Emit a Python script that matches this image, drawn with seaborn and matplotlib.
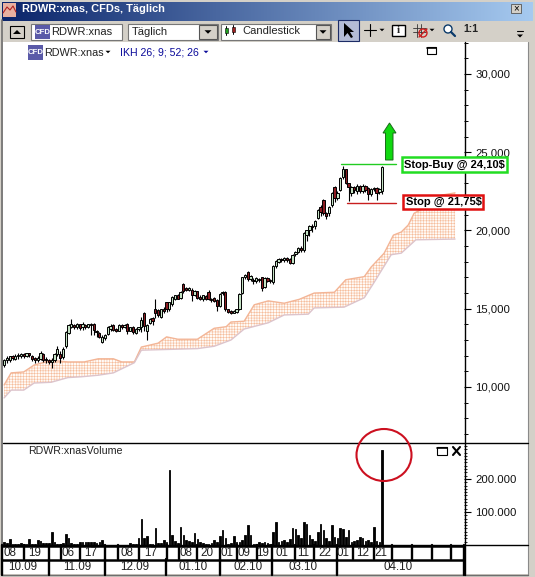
import numpy as np
import pandas as pd
import matplotlib
matplotlib.use("Agg")
import matplotlib.pyplot as plt
from matplotlib.patches import Rectangle, Ellipse, Polygon
from matplotlib.ticker import MultipleLocator
import seaborn as sns

# candles, prices in thousands as the chart prints them
opens = [11.4, 11.7, 11.75, 11.95, 11.8, 11.95, 12.0, 12.1, 12.0, 12.15,
         12.0, 11.85, 11.7, 11.8, 12.1, 11.8, 11.7, 11.6, 11.7, 12.1,
         12.1, 11.9, 12.6, 13.45, 13.85, 13.95, 13.85, 14.0, 13.8, 13.95,
         13.85, 14.0, 14.05, 13.6, 13.45, 12.85, 13.1, 13.4, 13.7, 13.95,
         13.7, 13.6, 13.95, 13.8, 14.05, 13.6, 13.85, 13.45, 13.7, 13.8,
         14.7, 13.6, 14.1, 14.4, 14.95, 14.9, 14.5, 15.0, 15.4, 14.95,
         15.3, 15.65, 15.85, 15.7, 16.6, 16.35, 16.2, 16.2, 15.9, 16.1,
         15.75, 15.6, 15.8, 16.05, 15.65, 15.7, 15.55, 15.2, 16.0, 16.05,
         14.95, 14.85, 14.75, 14.8, 15.0, 16.0, 17.0, 17.35, 16.9, 16.85,
         16.75, 16.9, 17.0, 16.4, 16.95, 16.85, 16.7, 17.75, 18.0, 18.2,
         18.1, 18.25, 18.2, 17.95, 18.5, 18.65, 18.9, 18.75, 19.7, 20.05,
         20.3, 20.3, 20.8, 21.5, 21.95, 21.1, 21.1, 21.6, 22.8, 22.1,
         22.6, 23.4, 23.9, 23.0, 22.4, 22.75, 22.5, 22.85, 22.55, 22.85,
         22.7, 22.3, 22.65, 22.7, 22.45, 22.55]
closes = [11.7, 11.85, 11.95, 11.85, 12.0, 12.05, 12.1, 12.0, 12.15, 12.05,
          11.8, 11.7, 11.85, 12.2, 11.75, 11.7, 11.6, 11.7, 12.1, 12.4,
          11.85, 12.45, 13.5, 13.95, 14.0, 13.8, 14.0, 13.75, 14.0, 13.85,
          14.0, 13.95, 13.65, 13.5, 13.2, 13.2, 13.3, 13.85, 13.9, 13.65,
          13.6, 13.95, 13.8, 13.95, 13.55, 13.8, 13.5, 13.7, 13.8, 14.3,
          13.9, 13.95, 14.35, 14.2, 14.7, 14.6, 14.95, 14.85, 14.95, 15.4,
          15.75, 15.85, 15.65, 16.05, 16.1, 16.2, 16.35, 15.9, 16.15, 15.7,
          15.65, 15.85, 15.65, 15.65, 15.55, 15.5, 15.2, 15.95, 16.05, 14.95,
          14.8, 14.75, 14.85, 14.95, 15.95, 17.0, 17.15, 16.9, 17.1, 16.75,
          16.95, 16.85, 16.3, 16.95, 16.8, 16.75, 17.75, 18.05, 18.2, 18.1,
          18.25, 18.1, 17.95, 18.45, 18.65, 18.9, 18.75, 19.85, 20.0, 20.3,
          20.25, 20.6, 21.3, 21.2, 21.1, 20.9, 21.5, 22.4, 22.1, 22.4,
          23.35, 23.95, 23.0, 22.75, 22.75, 22.6, 22.85, 22.55, 22.85, 22.6,
          22.3, 22.65, 22.7, 22.4, 22.65, 24.05]
highs = [11.8, 11.95, 12.0, 12.05, 12.1, 12.15, 12.2, 12.15, 12.2, 12.2,
         12.05, 11.9, 11.95, 12.3, 12.15, 11.9, 11.8, 11.85, 12.2, 12.6,
         12.3, 12.55, 13.55, 14.05, 14.35, 14.05, 14.1, 14.05, 14.15, 14.05,
         14.05, 14.1, 14.1, 13.65, 13.5, 13.3, 13.4, 13.9, 14.0, 14.0,
         13.75, 14.0, 14.05, 14.0, 14.1, 13.85, 13.9, 13.75, 13.85, 14.5,
         14.8, 14.0, 14.4, 14.45, 15.65, 14.95, 15.0, 15.1, 15.45, 15.45,
         15.8, 15.9, 15.95, 16.1, 16.65, 16.4, 16.4, 16.3, 16.2, 16.15,
         15.85, 15.9, 15.9, 16.2, 15.7, 15.75, 15.6, 16.0, 16.1, 16.1,
         15.0, 14.9, 14.9, 15.0, 16.0, 17.05, 17.2, 17.4, 17.15, 16.95,
         17.0, 16.95, 17.05, 17.0, 17.0, 16.9, 17.8, 18.1, 18.25, 18.25,
         18.3, 18.3, 18.25, 18.5, 18.7, 18.95, 19.0, 19.9, 20.05, 20.35,
         20.4, 20.65, 21.35, 21.6, 22.0, 21.15, 21.55, 22.45, 22.85, 22.5,
         23.4, 24.1, 23.95, 23.05, 22.85, 22.85, 22.95, 22.9, 22.95, 22.9,
         22.75, 22.7, 22.8, 22.75, 22.7, 24.1]
lows = [11.3, 11.5, 11.6, 11.7, 11.7, 11.8, 11.85, 11.85, 11.9, 11.9,
        11.65, 11.55, 11.6, 11.7, 11.6, 11.5, 11.45, 11.2, 11.6, 11.95,
        11.5, 11.8, 12.5, 13.4, 13.75, 13.7, 13.7, 13.65, 13.65, 13.7,
        13.75, 13.3, 13.3, 13.2, 13.1, 12.8, 13.0, 13.35, 13.6, 13.55,
        13.5, 13.55, 13.7, 13.75, 13.4, 13.55, 13.4, 13.4, 13.6, 13.5,
        13.6, 13.0, 14.0, 13.95, 14.4, 14.5, 14.4, 14.75, 14.8, 14.85,
        15.2, 15.55, 15.6, 15.6, 16.0, 16.1, 16.1, 15.5, 15.8, 15.6,
        15.55, 15.5, 15.55, 15.55, 15.4, 15.4, 14.85, 15.1, 15.9, 14.85,
        14.7, 14.65, 14.7, 14.75, 14.9, 15.95, 16.9, 16.8, 16.8, 16.6,
        16.65, 16.7, 16.15, 16.35, 16.7, 16.65, 16.6, 17.6, 17.9, 18.0,
        18.0, 18.0, 17.85, 17.85, 18.35, 18.55, 18.6, 18.65, 19.3, 19.65,
        19.9, 20.1, 20.7, 20.9, 21.0, 20.7, 20.95, 21.5, 21.8, 21.95,
        22.5, 23.3, 22.95, 21.85, 22.2, 22.4, 22.3, 22.4, 22.4, 22.45,
        21.95, 22.2, 22.5, 21.95, 22.3, 22.3]

# volume in thousands, one per candle
volumes = [8, 6, 18, 3, 4, 3, 5, 4, 2, 18,
           4, 3, 15, 12, 6, 5, 5, 38, 8, 3,
           3, 7, 32, 22, 6, 4, 4, 8, 8, 9,
           8, 9, 8, 7, 9, 15, 1, 1, 1, 1,
           1, 1, 1, 1, 1, 5, 3, 3, 22, 80,
           22, 26, 2, 3, 50, 5, 7, 15, 10, 228,
           30, 12, 5, 55, 30, 15, 13, 10, 35, 18,
           10, 5, 3, 2, 7, 14, 8, 27, 46, 20,
           3, 5, 28, 10, 8, 15, 30, 62, 30, 3,
           3, 8, 6, 8, 5, 4, 40, 70, 8, 12,
           15, 10, 18, 50, 48, 30, 20, 70, 65, 30,
           18, 12, 38, 65, 45, 20, 12, 60, 25, 20,
           50, 48, 25, 45, 10, 12, 15, 25, 20, 12,
           15, 10, 55, 12, 10, 288]

# Ichimoku cloud edges: bar number and price
cloud_top_bar = [0, 2.5, 7, 10.7, 16.8, 22.8, 28.6, 33.6, 39, 42, 46.5, 49, 55, 58, 62, 69,
                 75, 79.3, 81, 85.7, 89.3, 94.3, 100, 105.4, 110.7, 117.9, 122, 128.6, 131,
                 135.7, 139, 141.8, 144.3, 146.4, 150.7, 156, 161]
cloud_top = [10.13, 10.9, 10.96, 11.4, 11.7, 11.6, 11.6, 11.8, 11.8, 11.6, 11.6, 12.55, 12.8, 13.2, 13.05, 13.05,
             13.75, 13.85, 14.15, 14.2, 15.25, 15.5, 15.35, 15.6, 16.0, 16.05, 16.85, 17.05, 17.65,
             18.55, 19.7, 19.9, 20.35, 21.1, 21.5, 22.25, 22.4]
cloud_bot_bar = [0, 2.5, 7, 10.7, 16.8, 22.8, 27.5, 33.6, 39, 46.5, 49, 69, 75, 81, 85.7, 94.3,
                 100, 108.6, 110.7, 121.4, 128.6, 132, 138.2, 141.8, 147, 161]
cloud_bot = [9.3, 9.8, 9.8, 10.25, 10.3, 10.6, 10.65, 10.75, 10.9, 11.55, 12.35, 12.45, 12.6, 13.0, 13.7, 14.1,
             14.6, 14.65, 15.05, 15.1, 15.7, 16.65, 18.45, 18.55, 19.4, 19.45]

price_ticks = [10, 15, 20, 25, 30]
price_labels = ["10,000", "15,000", "20,000", "25,000", "30,000"]
volume_ticks = [100, 200]
volume_labels = ["100.000", "200.000"]

day_labels = ["08", "19", "06", "17", "08", "17", "08", "20", "01", "09", "19", "01", "11", "22", "01", "12", "21"]
day_px = [10, 35, 68, 91, 127, 151, 186, 207, 227, 244, 263, 282, 303, 325, 343, 363, 381]
day_seps = [2, 24, 49, 61, 80, 105, 118, 139, 167, 179, 197, 220, 237, 257, 272, 295, 314, 337, 353, 374, 392, 412, 432, 451, 464]
month_labels = ["10.09", "11.09", "12.09", "01.10", "02.10", "03.10", "04.10"]
month_px = [23, 77, 135, 193, 248, 303, 398]
month_seps = [2, 49, 105, 166, 220, 272, 337, 464]

W, H = 535, 577
GREY = "#d4d0c8"

sns.set_theme(style="white")
plt.rcParams["font.family"] = ["Liberation Sans", "DejaVu Sans"]
plt.rcParams["hatch.linewidth"] = 0.4

fig = plt.figure(figsize=(W / 100, H / 100), dpi=100, facecolor=GREY)


def px_axes(left, top, right, bottom, **kw):
    return fig.add_axes([left / W, 1 - bottom / H, (right - left) / W, (bottom - top) / H], **kw)


# window background
bg = fig.add_axes([0, 0, 1, 1], zorder=0)
bg.set_xlim(0, W)
bg.set_ylim(H, 0)
bg.axis("off")
bg.imshow(np.linspace(0, 1, 256).reshape(1, -1), extent=(2, 533, 21, 2), aspect="auto",
          cmap=matplotlib.colors.LinearSegmentedColormap.from_list("tb", ["#0a246a", "#a6caf0"]))
bg.set_xlim(0, W)
bg.set_ylim(H, 0)
bg.add_patch(Rectangle((3, 42), 525, 532, fc="white", ec="none"))

bars = np.arange(len(closes))
df = pd.DataFrame({"bar": bars, "open": opens, "close": closes, "high": highs, "low": lows, "volume": volumes})
up = df[df.close >= df.open]
down = df[df.close < df.open]

# price panel
ax = px_axes(3, 42, 464, 443, zorder=2, facecolor="none")
ax.fill(np.r_[cloud_top_bar, cloud_bot_bar[::-1]], np.r_[cloud_top, cloud_bot[::-1]],
        facecolor="#fffaf6", edgecolor="#f6bd9c", hatch="++++++", linewidth=0, zorder=1)
sns.lineplot(x=cloud_top_bar, y=cloud_top, color="#f3b596", linewidth=1, ax=ax, zorder=2)
sns.lineplot(x=cloud_bot_bar, y=cloud_bot, color="#dcc4cc", linewidth=1, ax=ax, zorder=2)
ax.vlines(df.bar, df.low, df.high, color="black", linewidth=0.8, zorder=3)
ax.bar(up.bar, up.close - up.open, bottom=up.open, width=0.8, color="#c4e2c4", edgecolor="black", linewidth=0.7, zorder=4)
ax.bar(down.bar, down.open - down.close, bottom=down.close, width=0.8, color="#8c1c22", edgecolor="black", linewidth=0.7, zorder=4)
ax.set_xlim(-0.4, 164.2)
ax.set_ylim(6.42, 32.04)
ax.set_xticks([])
ax.yaxis.tick_right()
ax.set_yticks(price_ticks, price_labels)
ax.yaxis.set_minor_locator(MultipleLocator(1))
ax.tick_params(axis="y", which="major", length=5, width=0.8, color="black", labelsize=8.2, pad=3, labelcolor="#111111")
ax.tick_params(axis="y", which="minor", length=3, width=0.7, color="black", right=True)
ax.set_xlabel("")
ax.set_ylabel("")
sns.despine(ax=ax, left=True, bottom=True, top=True, right=True)

# volume panel
axv = px_axes(3, 443, 464, 545, zorder=2, facecolor="none")
sns.barplot(data=df, x="bar", y="volume", native_scale=True, color="black", saturation=1, width=0.6,
            edgecolor="black", linewidth=0.6, ax=axv)
axv.set_xlim(-0.4, 164.2)
axv.set_ylim(0, 309)
axv.set_xticks([])
axv.yaxis.tick_right()
axv.set_yticks(volume_ticks, volume_labels)
axv.yaxis.set_minor_locator(MultipleLocator(10))
axv.tick_params(axis="y", which="major", length=5, width=0.8, color="black", labelsize=8.2, pad=3, labelcolor="#111111")
axv.tick_params(axis="y", which="minor", length=2.5, width=0.6, color="black", right=True)
axv.set_xlabel("")
axv.set_ylabel("")
sns.despine(ax=axv, left=True, bottom=True, top=True, right=True)

# everything round the plot, in window pixels
fg = fig.add_axes([0, 0, 1, 1], zorder=5, facecolor="none")
fg.set_xlim(0, W)
fg.set_ylim(H, 0)
fg.axis("off")


def rect(x0, y0, x1, y1, fc="none", ec="black", lw=0.8, z=1.5):
    fg.add_patch(Rectangle((x0, y0), x1 - x0, y1 - y0, fc=fc, ec=ec, lw=lw, zorder=z))


def tri(cx, cy, s, color="black", up_tri=False):
    d = -s if up_tri else s
    fg.add_patch(Polygon([(cx - s, cy - d / 2), (cx + s, cy - d / 2), (cx, cy + d / 2)], fc=color, ec="none", zorder=6))


def cfd(x, y, w=15, h=15, size=5.6):
    rect(x, y, x + w, y + h, fc="#5a5aa8", ec="none")
    fg.text(x + w / 2, y + h / 2, "CFD", color="white", fontsize=size, fontweight="bold", ha="center", va="center", zorder=6)


# frame and panel lines
fg.plot([1.5, 1.5], [20, 575], color="#6e6e6e", lw=1.2)
fg.plot([528, 528], [42, 575], color="#8a8a8a", lw=0.8)
fg.plot([2, 528], [575, 575], color="#6e6e6e", lw=1)
fg.plot([3, 528], [443, 443], color="black", lw=1)
fg.plot([3, 528], [545, 545], color="black", lw=1)
fg.plot([464.5, 464.5], [42, 575], color="black", lw=1)

# title bar
fg.text(22, 9.5, "RDWR:xnas, CFDs, Täglich", color="white", fontsize=7.9, fontweight="bold", va="center")
rect(3, 3, 16, 17, fc="#e8b0a0", ec="none")
fg.plot([3, 7, 10, 13, 16], [13, 7, 10, 6, 12], color="#b02020", lw=0.8, zorder=6)
rect(511, 4, 521, 13, fc=GREY, ec="#555555", lw=0.6)
fg.text(516, 8.5, "×", color="black", fontsize=7, ha="center", va="center", zorder=6)

# toolbar
rect(10, 26, 24, 38, fc=GREY, ec="black")
tri(17, 32, 4, up_tri=True)
rect(31, 24, 122, 40, fc="white", ec="#777777")
cfd(35, 25, 15, 14)
fg.text(51, 32, "RDWR:xnas", fontsize=8, va="center", color="#222222")
rect(128, 24, 218, 40, fc="white", ec="#777777")
fg.text(132, 32, "Täglich", fontsize=8, va="center", color="#222222")
rect(199, 25, 217, 39, fc=GREY, ec="#555555")
tri(208, 32, 3.5)
rect(221, 24, 331, 40, fc="white", ec="#777777")
fg.plot([226, 226], [26, 35], color="black", lw=0.7, zorder=6)
rect(224.5, 28, 227.5, 33, fc="#20a020", ec="black", lw=0.4, z=7)
fg.plot([233, 233], [25, 34], color="black", lw=0.7, zorder=6)
rect(231.5, 27, 234.5, 32, fc="#a02020", ec="black", lw=0.4, z=7)
fg.text(242, 31.5, "Candlestick", fontsize=8, va="center", color="#222222")
rect(316, 25, 330, 39, fc=GREY, ec="#555555")
tri(323, 32, 3.5)
rect(338, 20, 359, 41, fc="#b4bcd6", ec="#1c2c66")
fg.add_patch(Polygon([(344, 23), (344, 37), (347.5, 33), (351, 38), (353, 37), (350, 32), (354, 32)], fc="black", ec="none", zorder=6))
fg.plot([364, 376], [30, 30], color="black", lw=0.8)
fg.plot([370, 370], [24, 36], color="black", lw=0.8)
tri(382, 30, 2.5)
rect(392, 25, 405, 36, fc="white", ec="black", lw=1)
fg.text(398.5, 30.5, "i", fontsize=8, fontweight="bold", ha="center", va="center", zorder=6, family="Liberation Serif")
for k in (417, 421):
    fg.plot([k, k], [24, 37], color="#333333", lw=0.6)
for k in (28, 32):
    fg.plot([413, 426], [k, k], color="#333333", lw=0.6)
fg.add_patch(Ellipse((423, 33), 8, 8, fc="none", ec="#d02020", lw=1, zorder=6))
fg.plot([419, 427], [37, 29], color="#d02020", lw=1, zorder=6)
tri(432, 30, 2.5)
fg.add_patch(Ellipse((448, 29), 8, 8, fc="white", ec="#0b3a6a", lw=1, zorder=6))
fg.plot([451, 455], [32, 36], color="#0b3a6a", lw=1.6, zorder=6)
fg.text(471, 29.5, "1:1", fontsize=7.5, fontweight="bold", ha="center", va="center", color="#222222")
tri(520, 36, 3)
fg.plot([517, 523], [31, 31], color="black", lw=0.8)

# panel headers
cfd(28, 45, 15, 15)
fg.text(44, 52.5, "RDWR:xnas", fontsize=7.8, va="center", color="#222222")
tri(108, 52, 2.5)
fg.text(120, 52.5, "IKH 26; 9; 52; 26", fontsize=7.6, va="center", color="#0a0a9a")
tri(206, 52, 2.5, color="#0a0a9a")
rect(427, 47, 436, 54, ec="black", lw=0.8)
fg.plot([427, 436], [48, 48], color="black", lw=1.2)
fg.text(28, 451, "RDWR:xnasVolume", fontsize=7.7, va="center", color="#222222")
rect(437, 447, 447, 455, ec="black", lw=0.8)
fg.plot([437, 447], [448, 448], color="black", lw=1.2)
fg.plot([453, 460], [447, 455], color="black", lw=1.5)
fg.plot([453, 460], [455, 447], color="black", lw=1.5)

# date strip
fg.plot([2, 464], [559.5, 559.5], color="black", lw=1.8)
fg.plot([2, 464], [546, 546], color="black", lw=1.8)
for sep in day_seps:
    fg.plot([sep, sep], [545, 559], color="black", lw=1.7)
for sep in month_seps:
    fg.plot([sep, sep], [559, 575], color="black", lw=1.7)
for label, x in zip(day_labels, day_px):
    fg.text(x, 553, label, fontsize=8.4, ha="center", va="center", color="#222222")
for label, x in zip(month_labels, month_px):
    fg.text(x, 567.5, label, fontsize=8.4, ha="center", va="center", color="#222222")

# trade annotations
fg.plot([341, 396], [164, 164], color="#22cc22", lw=1)
fg.plot([347, 396], [203, 203], color="#c81e1e", lw=1)
fg.add_patch(Polygon([(385.5, 160), (385.5, 133), (383, 133), (389.5, 123), (396, 133), (393, 133), (393, 160)],
                     fc="#10d810", ec="#1a6a1a", lw=0.7, zorder=6))
rect(402, 157, 507, 172, fc="white", ec="#22dd22", lw=1.8, z=6)
fg.text(404.5, 164.5, "Stop-Buy @ 24,10$", fontsize=8, fontweight="bold", va="center", color="black", zorder=7)
rect(403, 195, 483, 209, fc="white", ec="#e01010", lw=1.8, z=6)
fg.text(406, 202, "Stop @ 21,75$", fontsize=8, fontweight="bold", va="center", color="black", zorder=7)
fg.add_patch(Ellipse((384, 455), 55, 52, fc="none", ec="#cc1020", lw=1.5, zorder=7))

fig.savefig("out.png", dpi=100, facecolor=GREY)
